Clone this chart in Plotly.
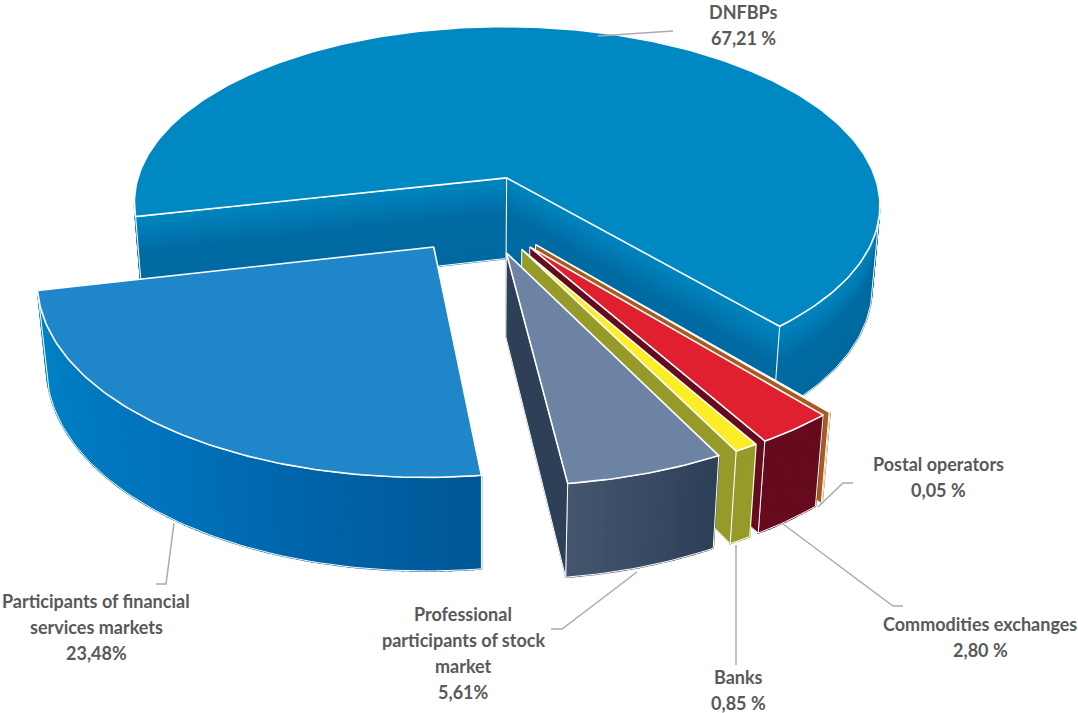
import math
import plotly.graph_objects as go

# Data
categories = ["DNFBPs", "Postal operators", "Commodities exchanges", "Banks",
              "Professional participants of stock market",
              "Participants of financial services markets"]
shares = [67.21, 0.05, 2.80, 0.85, 5.61, 23.48]
share_labels = ["67,21 %", "0,05 %", "2,80 %", "0,85 %", "5,61%", "23,48%"]
label_lines = [
    ["DNFBPs"],
    ["Postal operators"],
    ["Commodities exchanges"],
    ["Banks"],
    ["Professional", "participants of stock", "market"],
    ["Participants of financial", "services markets"],
]

# Pie geometry and camera
FIRST_ANGLE = 257.5
RADIUS = 380.0
EXPLODE = 81.0
CENTER_X, CENTER_Y = 481.7, 214.0
FORESHORTEN = 0.485
PERSPECTIVE = 0.0004
DEPTH_PX = 84.0
DEPTH_W = 0.02

# Slice colours: top, flat or gradient wall
TOP_COLORS = ["#0088C2", "#A85B1E", "#E01F2F", "#FBED26", "#6C83A3", "#1F86C9"]
CUT_WALL = ["#0069A0", "#A85B1E", "#660B1E", "#969A28", "#2E4058", "#005696"]
OUTER_STOPS = [
    None,
    ["#A85B1E", "#A85B1E"],
    ["#660B1E", "#660B1E"],
    ["#969A28", "#969A28"],
    ["#2E4058", "#45566F"],
    ["#005696", "#0072BC", "#0085C5"],
]
DEPTH_STOPS = [(0.0, "#0086BF"), (0.45, "#006BA3"), (1.0, "#0069A0")]

# Leader lines and label placement, in page pixels
LEADERS = [
    [(598, 36), (673, 31)],
    [(818, 507), (843, 483), (853, 483)],
    [(783, 524), (893, 606), (903, 606)],
    [(736, 545), (736, 665)],
    [(637, 572), (562, 629), (551, 629)],
    [(174, 523), (166, 584), (156, 584)],
]
LABEL_X = [743, 938, 980, 738, 463, 96]
LABEL_Y = [12, 464, 624, 677, 614, 601]
LINE_STEP = 26
FONT = dict(family="Lato", size=18, color="#595959")
LEADER_COLOR = "#ABABAB"


def project(x, y, z):
    w = 1 - PERSPECTIVE * y + DEPTH_W * z
    return CENTER_X + x / w, CENTER_Y + (FORESHORTEN * y + DEPTH_PX * z) / w


def hex_rgb(c):
    return [int(c[i:i + 2], 16) for i in (1, 3, 5)]


def blend(stops, t):
    """Piecewise colour ramp; stops are evenly spaced unless given as pairs."""
    if isinstance(stops[0], str):
        n = len(stops) - 1
        stops = [(i / n, c) for i, c in enumerate(stops)]
    for (t0, c0), (t1, c1) in zip(stops, stops[1:]):
        if t <= t1:
            f = (t - t0) / (t1 - t0) if t1 > t0 else 0
            a, b = hex_rgb(c0), hex_rgb(c1)
            return "rgb({},{},{})".format(*[round(p + (q - p) * f) for p, q in zip(a, b)])
    return stops[-1][1]


fig = go.Figure()


def poly(points, fill=None, line=None, width=1.0):
    xs = [p[0] for p in points]
    ys = [p[1] for p in points]
    kw = {}
    if fill:
        xs.append(xs[0])
        ys.append(ys[0])
        kw = dict(fill="toself", fillcolor=fill)
    fig.add_trace(go.Scatter(x=xs, y=ys, mode="lines",
                             line=dict(color=line or fill, width=width),
                             hoverinfo="skip", showlegend=False, **kw))


def band(path, z0, z1):
    """Screen polygon of a vertical wall along a world-space path."""
    return [project(x, y, z0) for x, y in path] + [project(x, y, z1) for x, y in reversed(path)]


def angle_range(a0, a1, step=1.0):
    n = max(2, int(math.ceil((a1 - a0) / step)) + 1)
    return [a0 + (a1 - a0) * i / (n - 1) for i in range(n)]


def faces_camera(px, py, nx, ny):
    return nx * (0 - px) + ny * (1 / PERSPECTIVE - py) > 0


def draw_slice(i, a0, a1):
    mid = math.radians((a0 + a1) / 2)
    cx, cy = EXPLODE * math.sin(mid), -EXPLODE * math.cos(mid)

    def rim(a):
        r = math.radians(a)
        return cx + RADIUS * math.sin(r), cy - RADIUS * math.cos(r)

    def rim_visible(a):
        r = math.radians(a)
        px, py = rim(a)
        return faces_camera(px, py, math.sin(r), -math.cos(r))

    # Outer wall: contiguous camera-facing runs of the rim
    angles = angle_range(a0, a1)
    runs, run = [], []
    for a in angles:
        if rim_visible(a):
            run.append(a)
        elif run:
            runs.append(run)
            run = []
    if run:
        runs.append(run)

    for run in runs:
        if len(run) < 2:
            continue
        path = [rim(a) for a in run]
        if OUTER_STOPS[i] is None:
            bands = 24
            for b in range(bands):
                z0, z1 = b / bands, (b + 1) / bands
                c = blend(DEPTH_STOPS, (z0 + z1) / 2)
                poly(band(path, z0, z1), fill=c, width=1.6)
        else:
            for j in range(len(run) - 1):
                t = (run[j] - a0) / max(a1 - a0, 1e-6)
                poly(band([rim(run[j]), rim(run[j + 1])], 0, 1),
                     fill=blend(OUTER_STOPS[i], t), width=1.6)
        poly(band(path, 0, 1) + [project(*path[0], 0)], line="#FFFFFF", width=1.0)

    # Cut faces, each shown only when it looks towards the camera
    for edge, sign in ((a0, -1), (a1, 1)):
        r = math.radians(edge)
        nx, ny = sign * math.cos(r), sign * math.sin(r)
        if not faces_camera(cx, cy, nx, ny):
            continue
        path = [(cx, cy), rim(edge)]
        if OUTER_STOPS[i] is None:
            bands = 24
            for b in range(bands):
                z0, z1 = b / bands, (b + 1) / bands
                poly(band(path, z0, z1), fill=blend(DEPTH_STOPS, (z0 + z1) / 2), width=1.6)
        else:
            poly(band(path, 0, 1), fill=CUT_WALL[i], width=0.8)
        poly(band(path, 0, 1) + [project(*path[0], 0)], line="#FFFFFF", width=1.0)

    # Top face
    top = [project(cx, cy, 0)] + [project(*rim(a), 0) for a in angle_range(a0, a1)]
    poly(top, fill=TOP_COLORS[i], line="#FFFFFF", width=1.6)


# Sweep the shares clockwise from the first slice angle
spans = []
start = FIRST_ANGLE
for value in shares:
    end = start + value * 3.6
    spans.append((start, end))
    start = end

# Back to front: main slice, financial slice, then the thin ones towards the viewer
for i in (0, 5, 1, 2, 3, 4):
    draw_slice(i, *spans[i])

for path in LEADERS:
    poly(path, line=LEADER_COLOR, width=1.5)

annotations = []
for lines, pct, x, y in zip(label_lines, share_labels, LABEL_X, LABEL_Y):
    for k, text in enumerate(lines + [pct]):
        annotations.append(dict(x=x, y=y + k * LINE_STEP, text=f"<b>{text}</b>", showarrow=False,
                                xref="x", yref="y", xanchor="center", yanchor="middle",
                                font=FONT))

fig.update_layout(
    width=1078, height=713, autosize=False,
    margin=dict(l=0, r=0, t=0, b=0),
    paper_bgcolor="#FFFFFF", plot_bgcolor="#FFFFFF",
    xaxis=dict(range=[0, 1078], visible=False, fixedrange=True),
    yaxis=dict(range=[713, 0], visible=False, fixedrange=True),
    annotations=annotations,
    showlegend=False,
)
fig.write_html("out.html", config=dict(displayModeBar=False))
